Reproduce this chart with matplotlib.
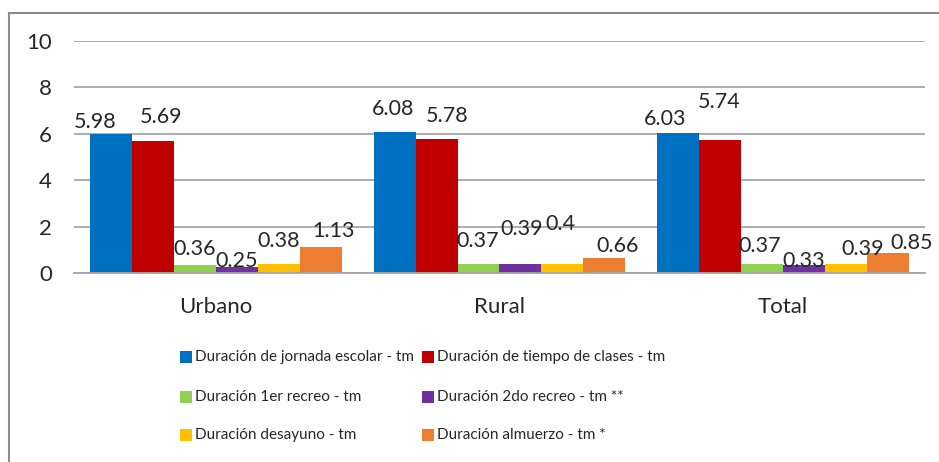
import matplotlib
matplotlib.use("Agg")
import matplotlib.pyplot as plt
from matplotlib.patches import Rectangle
from matplotlib.lines import Line2D

categories = ["Urbano", "Rural", "Total"]
series_names = [
    "Duración de jornada escolar - tm",
    "Duración de tiempo de clases - tm",
    "Duración 1er recreo - tm",
    "Duración 2do recreo - tm **",
    "Duración desayuno - tm",
    "Duración almuerzo - tm *",
]
jornada = [5.98, 6.08, 6.03]
clases = [5.69, 5.78, 5.74]
recreo1 = [0.36, 0.37, 0.37]
recreo2 = [0.25, 0.39, 0.33]
desayuno = [0.38, 0.40, 0.39]
almuerzo = [1.13, 0.66, 0.85]
label_texts = [
    ["5.98", "6.08", "6.03"],
    ["5.69", "5.78", "5.74"],
    ["0.36", "0.37", "0.37"],
    ["0.25", "0.39", "0.33"],
    ["0.38", "0.4", "0.39"],
    ["1.13", "0.66", "0.85"],
]
y_ticks = [0, 2, 4, 6, 8, 10]

series = [jornada, clases, recreo1, recreo2, desayuno, almuerzo]
colors = ["#0070C0", "#C00000", "#92D050", "#7030A0", "#FFC000", "#ED7D31"]

# label offsets in pixels (dx, dy from top-centre of bar), per series per category
label_offsets = [
    [(-16, 12), (-1, 23), (-13, 14)],
    [(8, 24), (11, 23), (-1, 38)],
    [(0, 16), (-1, 23), (-2, 18)],
    [(0, 6), (1, 35), (0, 4)],
    [(0, 23), (-2, 40), (17, 15)],
    [(13, 16), (13, 12), (24, 10)],
]

W, H = 939, 462
FONT = "Lato"
plt.rcParams["font.family"] = [FONT, "DejaVu Sans"]

fig = plt.figure(figsize=(W / 100, H / 100), dpi=100)
ax = fig.add_axes([74 / W, 1 - 273 / H, (925 - 74) / W, (273 - 41) / H])

bw = 0.148
n = len(series)
for i, (vals, col) in enumerate(zip(series, colors)):
    xs = [c + (i - (n - 1) / 2) * bw for c in range(len(categories))]
    ax.bar(xs, vals, width=bw, color=col, zorder=3, linewidth=0)
    for j, (x, v) in enumerate(zip(xs, vals)):
        dx, dy = label_offsets[i][j]
        ax.annotate(label_texts[i][j], (x, v), xytext=(dx, dy), textcoords="offset pixels",
                    ha="center", va="center", fontsize=15.5, color="#262626", zorder=5)

ax.set_xlim(-0.5, len(categories) - 0.5)
ax.set_ylim(0, 10)
ax.set_yticks(y_ticks)
ax.set_yticklabels([str(t) for t in y_ticks])
ax.set_xticks(range(len(categories)))
ax.set_xticklabels(categories)
ax.tick_params(axis="y", length=0, pad=16, labelsize=16, labelcolor="#262626")
ax.tick_params(axis="x", length=0, pad=17, labelsize=16, labelcolor="#262626")
ax.grid(axis="y", color="#A6A6A6", linewidth=1.3, zorder=0)
for s in ["top", "right", "left"]:
    ax.spines[s].set_visible(False)
ax.spines["bottom"].set_color("#A6A6A6")
ax.spines["bottom"].set_linewidth(1.3)
ax.spines["bottom"].set_zorder(4)

# chart frame
fig.add_artist(Line2D([9 / W, 1], [1 - 13 / H, 1 - 13 / H], color="#8C8C8C", linewidth=1.5))
fig.add_artist(Line2D([9 / W, 9 / W], [0, 1 - 13 / H], color="#8C8C8C", linewidth=1.5))

# legend (row-wise, two columns)
col_x = [180, 422]
row_y = [357, 397, 435]
sq = 12
for k, (name, col) in enumerate(zip(series_names, colors)):
    r, c = divmod(k, 2)
    x0, yc = col_x[c], row_y[r]
    fig.add_artist(Rectangle((x0 / W, 1 - (yc + sq / 2) / H), sq / W, sq / H,
                             transform=fig.transFigure, color=col, linewidth=0))
    fig.text((x0 + sq + 3) / W, 1 - yc / H, name, ha="left", va="center",
             fontsize=11, color="#262626")

fig.savefig("out.png", dpi=100, facecolor="white")
